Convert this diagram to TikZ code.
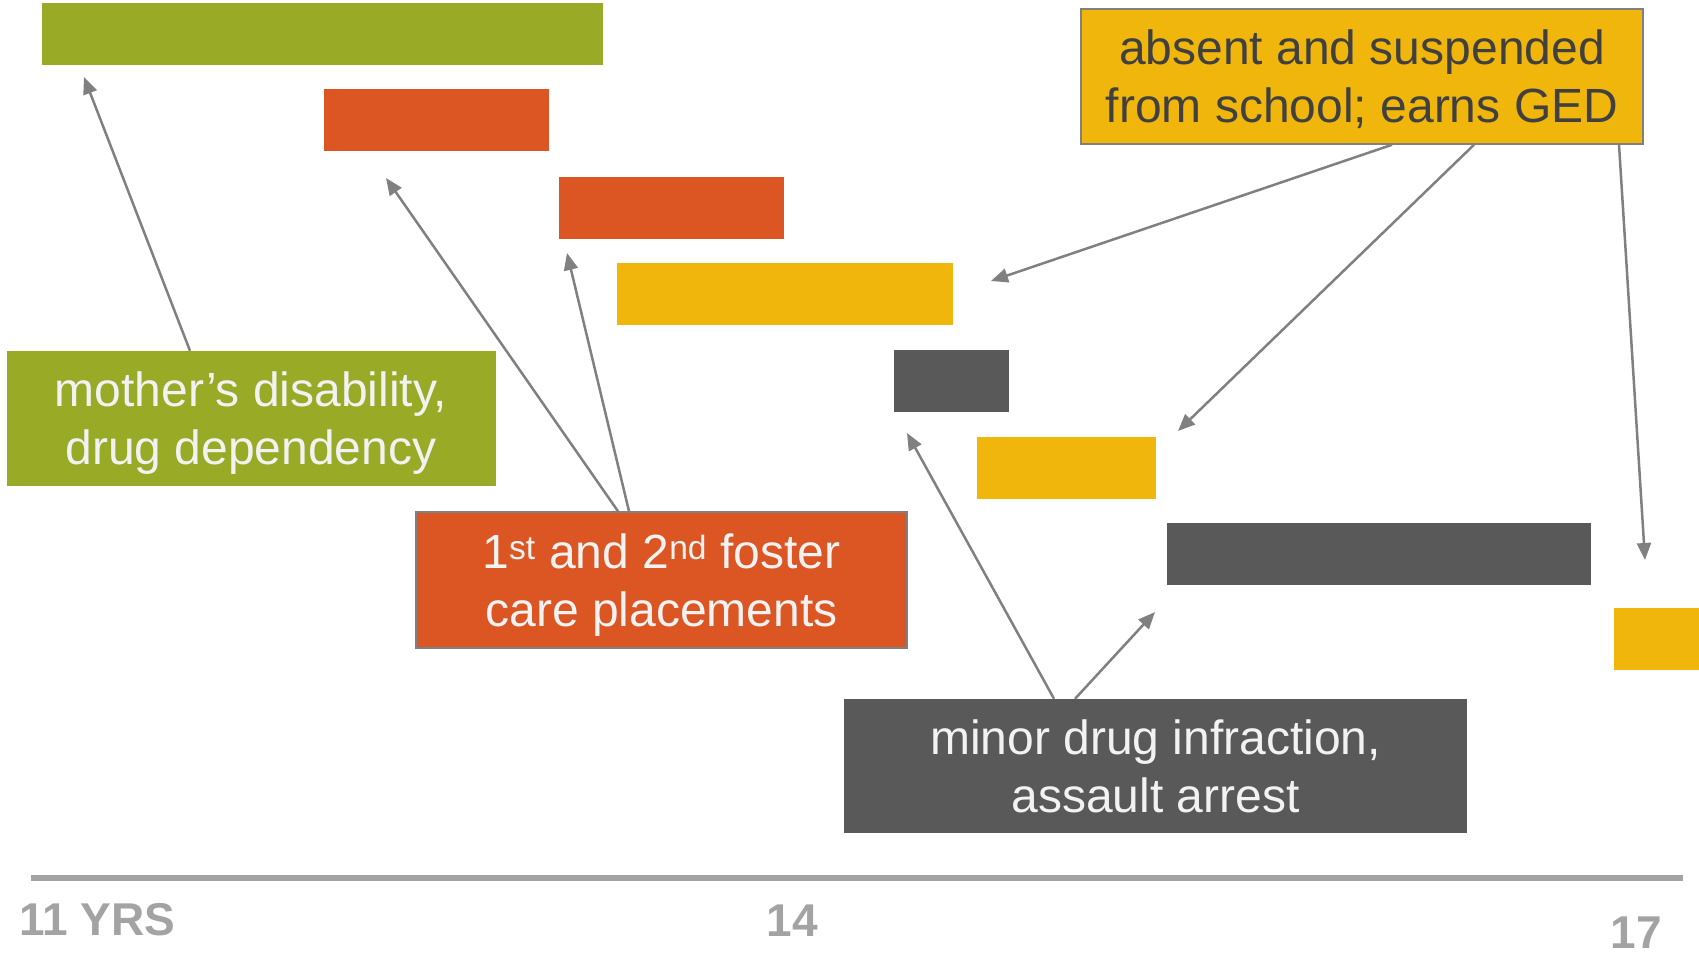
\documentclass[tikz,border=0pt]{standalone}
\usepackage{fontspec}
\setmainfont{Liberation Sans}
\usetikzlibrary{arrows.meta,positioning}
\definecolor{tlgreen}{HTML}{99AA26}
\definecolor{tlorange}{HTML}{DC5624}
\definecolor{tlyellow}{HTML}{F0B60C}
\definecolor{tldark}{HTML}{595959}
\definecolor{tlwhite}{HTML}{F2F2F2}
\definecolor{tltext}{HTML}{404040}
\definecolor{tlline}{HTML}{808080}
\definecolor{tlaxis}{HTML}{A3A3A3}
\tikzset{
  bar/.style={rectangle,inner sep=0pt,minimum height=62pt,anchor=north west},
  lbl/.style={rectangle,align=center,inner sep=0pt,text=tlwhite,
              font=\fontsize{48}{58}\selectfont},
  yrs/.style={inner sep=0pt,text=tlaxis,font=\fontsize{46}{46}\selectfont\bfseries},
  pointer/.style={tlline,line width=2.5pt,-{Triangle[length=17pt,width=14pt]}}
}

\begin{document}
\begin{tikzpicture}[x=1pt,y=-1pt]
  \useasboundingbox (0,0) rectangle (1699,953);
                   % bars
                   \node[bar,fill=tlgreen,minimum width=561pt]  (g_1) at (42,3)    {};
                   \node[bar,fill=tlorange,minimum width=225pt] (o_1) at (324,89)  {};
                   \node[bar,fill=tlorange,minimum width=225pt] (o_2) at (559,177) {};
                   \node[bar,fill=tlyellow,minimum width=336pt] (y_1) at (617,263) {};
                   \node[bar,fill=tldark,minimum width=115pt]   (d_1) at (894,350) {};
                   \node[bar,fill=tlyellow,minimum width=179pt] (y_2) at (977,437) {};
                   \node[bar,fill=tldark,minimum width=424pt]   (d_2) at (1167,523) {};
                   \node[bar,fill=tlyellow,minimum width=85pt]  (y_3) at (1614,608) {};
                   % labels
                   \node[lbl,fill=tlgreen,text depth=-3pt,minimum width=489pt,minimum height=135pt] (l_g) at (251,418.5)
                        {mother’s disability,\\drug dependency};
                   \node[lbl,fill=tlorange,draw=tlline,line width=1.5pt,text depth=-4pt,minimum width=491pt,minimum height=136pt] (l_o) at (661.5,580)
                        {1\textsuperscript{st} and 2\textsuperscript{nd} foster\\care placements};
                   \node[lbl,fill=tlyellow,draw=tlline,line width=1.5pt,text=tltext,text depth=0pt,minimum width=562pt,minimum height=135pt] (l_y) at (1362,76.5)
                        {absent and suspended\\from school; earns GED};
                   \node[lbl,fill=tldark,text depth=-4pt,minimum width=623pt,minimum height=134pt] (l_d) at (1155.5,766)
                        {minor drug infraction,\\assault arrest};
                   % arrow tips
                   \coordinate (a_1) at (84,77);
                   \coordinate (a_2) at (386,178);
                   \coordinate (a_3) at (567,253);
                   \coordinate (a_4) at (991,281);
                   \coordinate (a_5) at (1178,431);
                   \coordinate (a_6) at (1645,560);
                   \coordinate (a_7) at (907,433);
                   \coordinate (a_8) at (1155,612);
                    \path[pointer]
                    ([xshift=-61pt]l_g.north) edge (a_1)
                    ([xshift=-43.5pt]l_o.north) edge (a_2)
                    ([xshift=-32.5pt]l_o.north) edge (a_3)
                    ([xshift=30pt]l_y.south) edge (a_4)
                    ([xshift=112pt]l_y.south) edge (a_5)
                    ([xshift=257pt]l_y.south) edge (a_6)
                    ([xshift=-101.5pt]l_d.north) edge (a_7)
                    ([xshift=-80.5pt]l_d.north) edge (a_8);
                   % time axis
                   \draw[tlaxis,line width=5.5pt] (31,878) -- (1683,878);
                   \node[yrs,anchor=base west] (t_11) at (19,935) {11 YRS};
                   \node[yrs,anchor=base] (t_14) at (792,936) {14};
                   \node[yrs,anchor=base] (t_17) at (1636,948) {17};
                \end{tikzpicture}
\end{document}
